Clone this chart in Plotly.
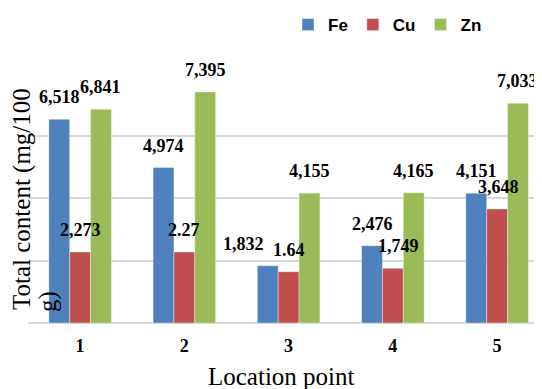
import plotly.graph_objects as go

categories = ["1", "2", "3", "4", "5"]
fe = [6.518, 4.974, 1.832, 2.476, 4.151]
cu = [2.273, 2.27, 1.64, 1.749, 3.648]
zn = [6.841, 7.395, 4.155, 4.165, 7.033]

fe_labels = ["6,518", "4,974", "1,832", "2,476", "4,151"]
cu_labels = ["2,273", "2.27", "1.64", "1,749", "3,648"]
zn_labels = ["6,841", "7,395", "4,155", "4,165", "7,033"]

series = [
    ("Fe", fe, fe_labels, "#4F81BD", -0.2, [0, 0, -24, 0, 0]),
    ("Cu", cu, cu_labels, "#C0504D", 0.0, [0, 0, 0, 6, 1]),
    ("Zn", zn, zn_labels, "#9BBB59", 0.2, [0, 0, 0, 0, 0]),
]

fig = go.Figure()
annotations = []
for name, vals, labels, color, off, extra in series:
    fig.add_trace(go.Bar(
        name=name, x=categories, y=vals,
        marker=dict(color=color, line=dict(color="rgba(255,255,255,0.6)", width=0.6)),
    ))
    for i, (v, t, e) in enumerate(zip(vals, labels, extra)):
        annotations.append(dict(
            x=i + off, y=v, xref="x", yref="y", text="<b>" + t + "</b>",
            showarrow=False, xshift=e, yshift=22,
            xanchor="center", yanchor="middle",
            font=dict(family="Liberation Serif", size=18, color="black"),
        ))

# axis titles (screen pixel positions converted to paper coordinates)
def px(xp):
    return (xp - 28) / 514

def py(yp):
    return (323 - yp) / 250

title_font = dict(family="Liberation Serif", size=25, color="black")
annotations.append(dict(
    x=px(22), y=py(199), xref="paper", yref="paper",
    text="Total content (mg/100", textangle=-90,
    showarrow=False, xanchor="center", yanchor="middle", font=title_font,
))
annotations.append(dict(
    x=px(48), y=py(302), xref="paper", yref="paper",
    text="g)", textangle=-90,
    showarrow=False, xanchor="center", yanchor="middle", font=title_font,
))
annotations.append(dict(
    x=px(281), y=py(376), xref="paper", yref="paper",
    text="Location point", showarrow=False, xanchor="center", yanchor="middle",
    font=title_font,
))

# the page body adds an 8px offset, so margins are reduced by 8px on left/top
fig.update_layout(
    width=542, height=389,
    margin=dict(l=20, r=8, t=65, b=74, autoexpand=False),
    paper_bgcolor="white", plot_bgcolor="white",
    barmode="group", bargap=0.4, bargroupgap=0,
    showlegend=True,
    legend=dict(
        orientation="h", xref="container", yref="container",
        x=280 / 542, y=1 - 17 / 389,
        xanchor="left", yanchor="middle",
        font=dict(family="Liberation Sans", size=17, color="black", weight="bold"),
        itemwidth=30, tracegroupgap=0, bgcolor="rgba(0,0,0,0)",
    ),
    annotations=annotations,
    xaxis=dict(
        type="category", range=[-0.5, -0.5 + 514 / 104.25],
        showgrid=False, showline=False, ticks="", automargin=False,
        ticklabelstandoff=10,
        tickfont=dict(family="Liberation Serif", size=18, color="black", weight="bold"),
    ),
    yaxis=dict(
        range=[0, 8], dtick=2, showticklabels=False, automargin=False,
        showgrid=True, gridcolor="#D9D9D9", gridwidth=2,
        zeroline=True, zerolinecolor="#D9D9D9", zerolinewidth=2,
        showline=False, ticks="",
    ),
)

fig.write_html("out.html")
